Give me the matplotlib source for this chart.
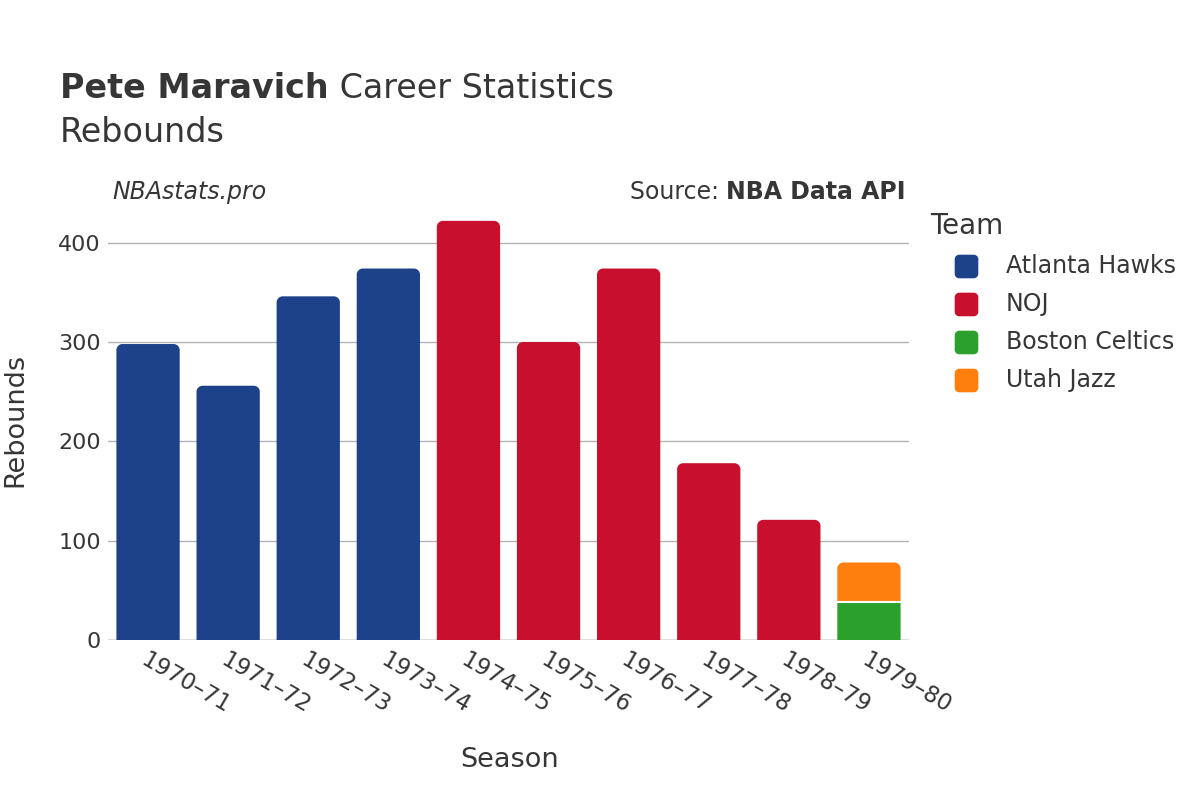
import matplotlib
matplotlib.use("Agg")
import matplotlib.pyplot as plt
from matplotlib.path import Path
from matplotlib.patches import PathPatch
from matplotlib.lines import Line2D

seasons = ["1970–71", "1971–72", "1972–73", "1973–74", "1974–75",
           "1975–76", "1976–77", "1977–78", "1978–79", "1979–80"]
teams = ["Atlanta Hawks", "NOJ", "Boston Celtics", "Utah Jazz"]
team_colors = ["#1d428a", "#c8102e", "#2ca02c", "#ff7f0e"]

atlanta = [298, 256, 346, 374, 0, 0, 0, 0, 0, 0]
noj = [0, 0, 0, 0, 422, 300, 374, 178, 121, 0]
boston = [0, 0, 0, 0, 0, 0, 0, 0, 0, 38]
utah = [0, 0, 0, 0, 0, 0, 0, 0, 0, 40]
series = [atlanta, noj, boston, utah]

txt = "#363636"
plt.rcParams['font.family'] = ['DejaVu Sans']


def round_top(x0, y0, w, h, rx, ry, bottom=False):
    # rectangle with rounded top corners (and optionally bottom ones)
    k = 0.5523
    x1, y1 = x0 + w, y0 + h
    v = []
    c = []
    if bottom:
        v += [(x0 + rx, y0), (x1 - rx, y0),
              (x1 - rx + k * rx, y0), (x1, y0 + ry - k * ry), (x1, y0 + ry)]
        c += [Path.MOVETO, Path.LINETO, Path.CURVE4, Path.CURVE4, Path.CURVE4]
    else:
        v += [(x0, y0), (x1, y0)]
        c += [Path.MOVETO, Path.LINETO]
    v += [(x1, y1 - ry), (x1, y1 - ry + k * ry), (x1 - rx + k * rx, y1), (x1 - rx, y1),
          (x0 + rx, y1), (x0 + rx - k * rx, y1), (x0, y1 - ry + k * ry), (x0, y1 - ry)]
    c += [Path.LINETO, Path.CURVE4, Path.CURVE4, Path.CURVE4,
          Path.LINETO, Path.CURVE4, Path.CURVE4, Path.CURVE4]
    if bottom:
        v += [(x0, y0 + ry), (x0, y0 + ry - k * ry), (x0 + rx - k * rx, y0), (x0 + rx, y0)]
        c += [Path.LINETO, Path.CURVE4, Path.CURVE4, Path.CURVE4]
    else:
        v += [(x0, y0)]
        c += [Path.LINETO]
    v.append(v[0])
    c.append(Path.CLOSEPOLY)
    return Path(v, c)


fig = plt.figure(figsize=(12, 8), dpi=100)
ax_l, ax_w = 0.09, 0.6675
ax = fig.add_axes([ax_l, 0.2, ax_w, 0.55])
ymax = 443
ax.set_xlim(-0.5, len(seasons) - 0.5)
ax.set_ylim(0, ymax)

px_x = len(seasons) / (ax_w * 1200)
px_y = ymax / (0.55 * 800)
bw = 0.79

tops = []
for i in range(len(seasons)):
    t = -1
    for k in range(len(series)):
        if series[k][i] > 0:
            t = k
    tops.append(t)

for i in range(len(seasons)):
    base = 0
    for k, vals in enumerate(series):
        v = vals[i]
        if v <= 0:
            continue
        x0 = i - bw / 2
        rr = 6 if k == tops[i] else 0
        p = round_top(x0, base, bw, v, rr * px_x, rr * px_y)
        ax.add_patch(PathPatch(p, fc=team_colors[k], ec="none", zorder=3))
        if base > 0:
            ax.plot([x0, x0 + bw], [base, base], color="white", lw=1.5, zorder=4)
        base += v

ax.set_yticks([0, 100, 200, 300, 400])
ax.grid(axis="y", color="#b3b3b3", lw=1, zorder=0)
ax.axhline(0, color="#e6e6e6", lw=2, zorder=1)
for s in ax.spines.values():
    s.set_visible(False)
ax.tick_params(axis="y", length=0, labelsize=16, colors=txt, pad=5)
ax.tick_params(axis="x", length=0, labelsize=16.5, colors=txt, pad=6)
ax.set_xticks(range(len(seasons)))
ax.set_xticklabels(seasons, rotation=-30, ha="left", va="top", rotation_mode="anchor")
ax.set_xlabel("Season", fontsize=19.5, color=txt, va="center")
ax.set_ylabel("Rebounds", fontsize=19.5, color=txt, va="center")
ax.xaxis.set_label_coords((510 - 108) / 801, -0.273)
ax.yaxis.set_label_coords((15 - 108) / 801, 0.5)

fig.canvas.draw()
ren = fig.canvas.get_renderer()

t1 = fig.text(0.05, 0.889, "Pete Maravich", fontsize=24, fontweight="bold", color=txt, va="center")
bb = t1.get_window_extent(ren)
fig.text(bb.x1 / 1200, 0.889, " Career Statistics", fontsize=24, color=txt, va="center")
fig.text(0.05, 0.835, "Rebounds", fontsize=24, color=txt, va="center")
fig.text(0.094, 0.76, "NBAstats.pro", fontsize=17, style="italic", color=txt, va="center")
t2 = fig.text(0.755, 0.76, "NBA Data API", fontsize=17, fontweight="bold", color=txt,
              va="center", ha="right")
bb2 = t2.get_window_extent(ren)
fig.text(bb2.x0 / 1200, 0.76, "Source: ", fontsize=17, color=txt, va="center", ha="right")

# legend drawn with rounded square markers
sq = round_top(-1, -1, 2, 2, 0.35, 0.35, bottom=True)
fig.text(930 / 1200, 1 - 226 / 800, "Team", fontsize=20, color=txt, va="center")
for j, name in enumerate(teams):
    yy = 1 - (266 + 38 * j) / 800
    fig.add_artist(Line2D([966 / 1200], [yy], marker=sq, markersize=16, ls="none",
                          color=team_colors[j], transform=fig.transFigure))
    fig.text(1006 / 1200, yy, name, fontsize=17, color=txt, va="center")

fig.savefig("out.png", dpi=100)
